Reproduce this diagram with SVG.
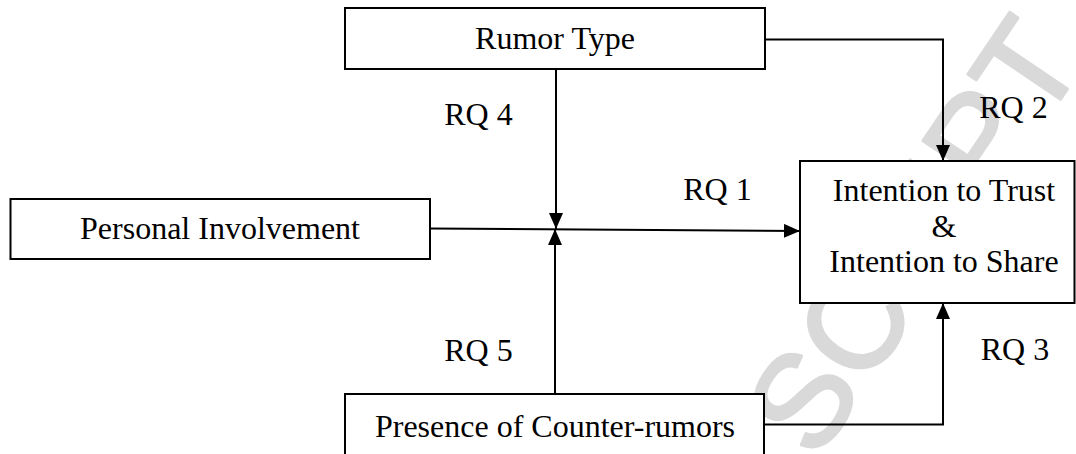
<svg xmlns="http://www.w3.org/2000/svg" width="1076" height="454" viewBox="0 0 1076 454">
  <style>
    .box { fill: #ffffff; stroke: #000000; stroke-width: 2; }
    .lbl { font-family: "Liberation Serif", "Times New Roman", serif; font-size: 32px; fill: #000000; text-anchor: middle; }
    .conn { fill: none; stroke: #000000; stroke-width: 2; }
    .wm { font-family: "Liberation Sans", Arial, sans-serif; font-size: 132px; fill: #d9d9d9; stroke: #d9d9d9; stroke-width: 3; stroke-linejoin: round; }
  </style>
  <defs>
    <marker id="arrow" markerUnits="userSpaceOnUse" markerWidth="16" markerHeight="14" refX="16" refY="7" orient="auto">
      <path d="M0,0 L16,7 L0,14 z" fill="#000000"/>
    </marker>
  </defs>
  <rect width="1076" height="454" fill="#ffffff"/>
  <g id="watermark">
    <text class="wm" transform="translate(816,462) rotate(-56)">SCRIPT</text>
  </g>
  <g id="connectors">
    <path class="conn" d="M556,70 V229" marker-end="url(#arrow)"/>
    <path class="conn" d="M555,394 V229" marker-end="url(#arrow)"/>
    <path class="conn" d="M430,228.5 L800,231" marker-end="url(#arrow)"/>
    <path class="conn" d="M765,39.5 H943 V161" marker-end="url(#arrow)"/>
    <path class="conn" d="M764,424.5 H943 V303" marker-end="url(#arrow)"/>
  </g>
  <g id="node-rumor-type">
    <rect class="box" x="345" y="8" width="420" height="61"/>
    <text class="lbl" x="555" y="49">Rumor Type</text>
  </g>
  <g id="node-personal-involvement">
    <rect class="box" x="10.5" y="199" width="419.5" height="60"/>
    <text class="lbl" x="220" y="239">Personal Involvement</text>
  </g>
  <g id="node-intention">
    <rect class="box" x="800" y="161" width="274.5" height="142"/>
    <text class="lbl" x="944" y="201">Intention to Trust</text>
    <text class="lbl" x="944" y="237">&amp;</text>
    <text class="lbl" x="944" y="272">Intention to Share</text>
  </g>
  <g id="node-presence">
    <rect class="box" x="345" y="394" width="419" height="70"/>
    <text class="lbl" x="555" y="437">Presence of Counter-rumors</text>
  </g>
  <g id="labels">
    <text class="lbl" x="478.5" y="125">RQ 4</text>
    <text class="lbl" x="717.5" y="200">RQ 1</text>
    <text class="lbl" x="1013.5" y="118">RQ 2</text>
    <text class="lbl" x="1015" y="360">RQ 3</text>
    <text class="lbl" x="478.5" y="361">RQ 5</text>
  </g>
</svg>
